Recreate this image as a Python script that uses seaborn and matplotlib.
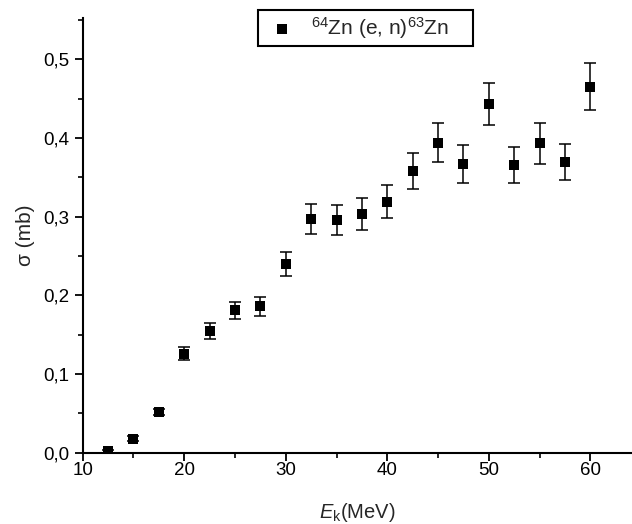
import matplotlib
matplotlib.use("Agg")
import matplotlib.pyplot as plt
import seaborn as sns
import pandas as pd
from matplotlib.ticker import MultipleLocator, FuncFormatter

sns.set_theme(style="ticks")
plt.rcParams['font.family'] = ['Liberation Sans', 'DejaVu Sans']
plt.rcParams['mathtext.fontset'] = 'custom'
plt.rcParams['mathtext.rm'] = 'Liberation Sans'
plt.rcParams['mathtext.it'] = 'Liberation Sans:italic'

energy = [12.5, 15.0, 17.5, 20.0, 22.5, 25.0, 27.5, 30.0, 32.5, 35.0,
          37.5, 40.0, 42.5, 45.0, 47.5, 50.0, 52.5, 55.0, 57.5, 60.0]
sigma = [0.002, 0.018, 0.052, 0.126, 0.155, 0.181, 0.186, 0.240, 0.297, 0.296,
         0.303, 0.319, 0.358, 0.394, 0.367, 0.443, 0.366, 0.393, 0.369, 0.465]
sigma_err = [0.002, 0.003, 0.004, 0.008, 0.010, 0.011, 0.012, 0.015, 0.019, 0.019,
             0.020, 0.021, 0.023, 0.025, 0.024, 0.027, 0.023, 0.026, 0.023, 0.030]
legend_label = r'$^{64}$Zn (e, n)$^{63}$Zn'

df = pd.DataFrame({'E': energy, 'sigma': sigma, 'err': sigma_err})

fig = plt.figure(figsize=(6.32, 5.24), dpi=100)
ax = fig.add_axes([0.1309, 0.136, 0.8691, 0.8292])

ax.errorbar(df['E'], df['sigma'], yerr=df['err'], fmt='none', ecolor='black',
            elinewidth=1.1, capsize=4.5, capthick=1.1, zorder=2)
# trailing no-break spaces give the extra right padding seen in the legend box
sns.scatterplot(data=df, x='E', y='sigma', marker='s', s=50, color='black',
                edgecolor='black', linewidth=0, ax=ax, zorder=3,
                label=legend_label + '\u00a0\u00a0\u00a0\u00a0')

ax.set_xlim(10, 64.1)
ax.set_ylim(0, 0.552)
ax.xaxis.set_major_locator(MultipleLocator(10))
ax.xaxis.set_minor_locator(MultipleLocator(5))
ax.yaxis.set_major_locator(MultipleLocator(0.1))
ax.yaxis.set_minor_locator(MultipleLocator(0.05))
ax.yaxis.set_major_formatter(FuncFormatter(lambda v, p: f"{v:.1f}".replace('.', ',')))

for s in ['top', 'right']:
    ax.spines[s].set_visible(False)
for s in ['left', 'bottom']:
    ax.spines[s].set_linewidth(1.5)
    ax.spines[s].set_color('black')

ax.tick_params(which='major', direction='out', length=6, width=1.3, labelsize=13.5,
               colors='black')
ax.tick_params(which='minor', direction='out', length=3.6, width=1.2, colors='black')
ax.tick_params(axis='x', which='major', pad=0.5)
ax.tick_params(axis='y', which='major', pad=3.5)

ax.set_xlabel(r'$E_{\mathrm{k}}$(MeV)', fontsize=14.5)
ax.set_ylabel('σ (mb)', fontsize=15)
ax.xaxis.set_label_coords(0.5, -0.11)
ax.yaxis.set_label_coords(-0.087, 0.5)

leg = ax.legend(loc='upper center', bbox_to_anchor=(0.515, 1.019), borderaxespad=0,
                fontsize=15, frameon=True, fancybox=False, edgecolor='black',
                framealpha=1, handlelength=1.8, handletextpad=0.5, borderpad=0.25,
                markerscale=1.0)
leg.get_frame().set_linewidth(1.5)

fig.savefig('out.png', dpi=100, facecolor='white')
